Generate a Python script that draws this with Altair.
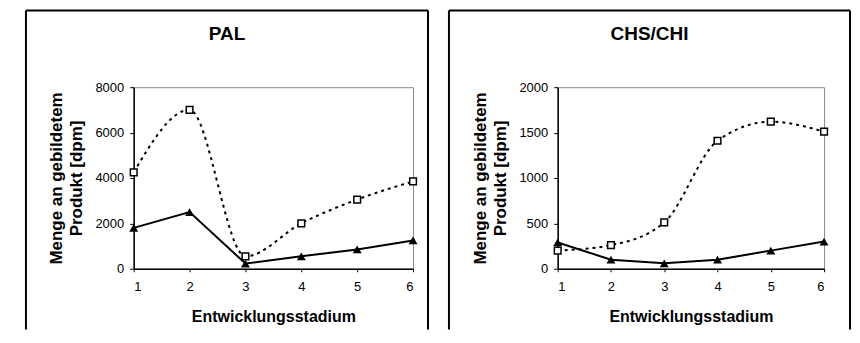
import altair as alt
import pandas as pd

stages = [1, 2, 3, 4, 5, 6]
pal_open = [4250, 7000, 550, 2000, 3050, 3850]
pal_filled = [1800, 2500, 230, 550, 850, 1250]
chs_open = [200, 260, 510, 1410, 1620, 1510]
chs_filled = [290, 100, 60, 100, 200, 300]
panel_titles = ["PAL", "CHS/CHI"]
x_title = "Entwicklungsstadium"
y_title = ["Menge an gebildetem", "Produkt [dpm]"]

FONT = "Liberation Sans"


def panel(title, open_vals, filled_vals, ymax, ystep, w, h, fl, fr, ft, fb):
    df_o = pd.DataFrame({"stage": stages, "value": open_vals})
    df_f = pd.DataFrame({"stage": stages, "value": filled_vals})
    one = pd.DataFrame({"k": [0]})

    x = alt.X(
        "stage:Q",
        scale=alt.Scale(domain=[1, 6], nice=False, zero=False),
        axis=alt.Axis(
            values=stages, format="d", title=x_title,
            tickSize=3, labelPadding=9, titlePadding=15,
        ),
    )
    y = alt.Y(
        "value:Q",
        scale=alt.Scale(domain=[0, ymax], nice=False),
        axis=alt.Axis(
            values=list(range(0, ymax + 1, ystep)), format="d", title=y_title,
            tickSize=4, labelPadding=6, titlePadding=9, titleLineHeight=20,
            titleFontSize=17,
        ),
    )

    line_o = alt.Chart(df_o).mark_line(
        color="black", strokeWidth=2, strokeDash=[3, 4], interpolate="monotone"
    ).encode(x=x, y=y)
    pts_o = alt.Chart(df_o).mark_point(
        shape="square", filled=True, fill="white", stroke="black",
        strokeWidth=1.5, size=45, opacity=1,
    ).encode(x=x, y=y)
    line_f = alt.Chart(df_f).mark_line(color="black", strokeWidth=2).encode(x=x, y=y)
    pts_f = alt.Chart(df_f).mark_point(
        shape="triangle-up", filled=True, color="black", size=80, opacity=1
    ).encode(x=x, y=y)

    left = alt.Chart(one).mark_rule(color="black", strokeWidth=2).encode(
        x=alt.value(fl), y=alt.value(ft), y2=alt.value(fb))
    right = alt.Chart(one).mark_rule(color="black", strokeWidth=2).encode(
        x=alt.value(fr), y=alt.value(ft), y2=alt.value(fb))
    top = alt.Chart(one).mark_rule(color="black", strokeWidth=2).encode(
        x=alt.value(fl), x2=alt.value(fr), y=alt.value(ft))

    return alt.layer(line_o, line_f, pts_o, pts_f, left, right, top).properties(
        width=w, height=h,
        title=alt.TitleParams(
            text=title, font=FONT, fontSize=19, fontWeight="bold",
            frame="bounds", anchor="middle", offset=-50,
            baseline="alphabetic", color="black",
        ),
    )


p1 = panel(panel_titles[0], pal_open, pal_filled, 8000, 2000, 280, 182,
           -108, 295, -77, 243)
p2 = panel(panel_titles[1], chs_open, chs_filled, 2000, 500, 267, 182,
           -109, 293, -77, 243)

chart = alt.hconcat(p1, p2, spacing=17).properties(
    padding={"left": 16, "top": 0, "right": 0, "bottom": 0}
).configure_view(
    stroke="#8a8a8a", strokeWidth=1
).configure_axis(
    grid=False,
    domainColor="black", domainWidth=1.5,
    tickColor="black", tickWidth=1,
    labelFont=FONT, labelFontSize=13, labelColor="black",
    titleFont=FONT, titleFontSize=16, titleFontWeight="bold", titleColor="black",
)

chart.save("out.html", embed_options={"renderer": "svg", "actions": False})
